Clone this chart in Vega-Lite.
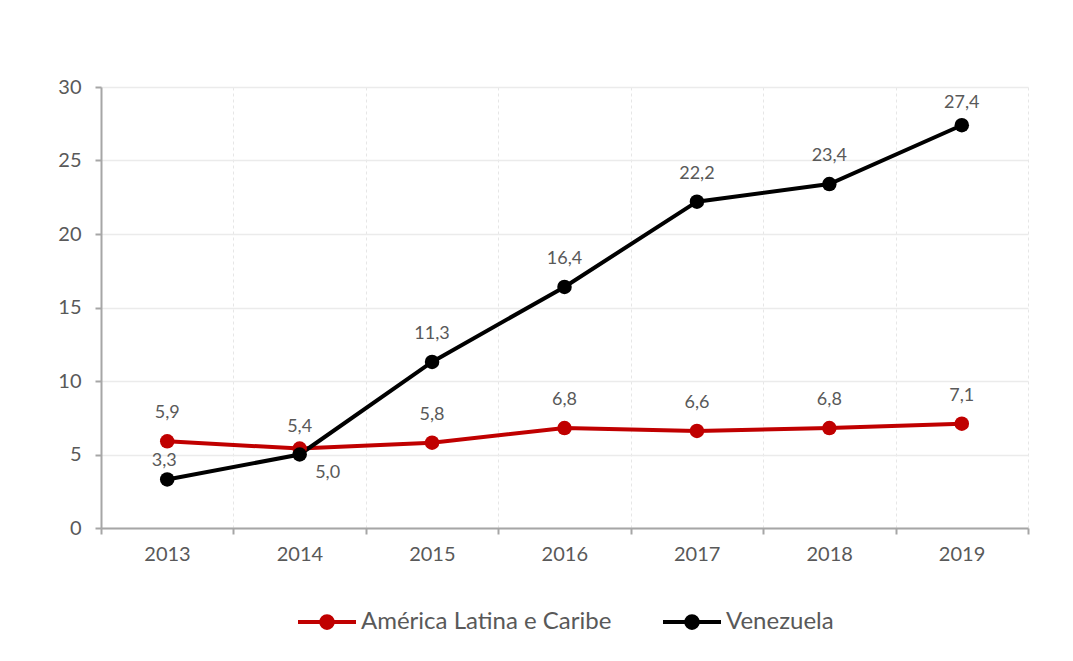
{
  "$schema": "https://vega.github.io/schema/vega-lite/v6.json",
  "width": 927,
  "height": 441,
  "autosize": {"type": "none"},
  "padding": {"left": 101, "top": 87, "right": 45, "bottom": 133},
  "background": "#ffffff",
  "data": {
    "values": [
      {"ano": 2013, "serie": "América Latina e Caribe", "valor": 5.9},
      {"ano": 2014, "serie": "América Latina e Caribe", "valor": 5.4},
      {"ano": 2015, "serie": "América Latina e Caribe", "valor": 5.8},
      {"ano": 2016, "serie": "América Latina e Caribe", "valor": 6.8},
      {"ano": 2017, "serie": "América Latina e Caribe", "valor": 6.6},
      {"ano": 2018, "serie": "América Latina e Caribe", "valor": 6.8},
      {"ano": 2019, "serie": "América Latina e Caribe", "valor": 7.1},
      {"ano": 2013, "serie": "Venezuela", "valor": 3.3},
      {"ano": 2014, "serie": "Venezuela", "valor": 5.0},
      {"ano": 2015, "serie": "Venezuela", "valor": 11.3},
      {"ano": 2016, "serie": "Venezuela", "valor": 16.4},
      {"ano": 2017, "serie": "Venezuela", "valor": 22.2},
      {"ano": 2018, "serie": "Venezuela", "valor": 23.4},
      {"ano": 2019, "serie": "Venezuela", "valor": 27.4}
    ]
  },
  "encoding": {
    "x": {
      "field": "ano",
      "type": "quantitative",
      "scale": {"domain": [2012.5, 2019.5], "nice": false, "zero": false},
      "axis": {
        "title": null,
        "values": [2012.5, 2013.5, 2014.5, 2015.5, 2016.5, 2017.5, 2018.5, 2019.5],
        "labelExpr": "datum.value < 2019 ? format(datum.value + 0.5, 'd') : ''",
        "labelOffset": 66,
        "labelPadding": 10,
        "labelFlush": false,
        "labelOverlap": false,
        "grid": true,
        "gridColor": "#E6E6E6",
        "gridDash": [3, 3],
        "gridWidth": 1,
        "domainColor": "#A6A6A6",
        "domainWidth": 2,
        "tickColor": "#A6A6A6",
        "tickWidth": 2,
        "tickSize": 6
      }
    },
    "y": {
      "field": "valor",
      "type": "quantitative",
      "scale": {"domain": [0, 30], "nice": false},
      "axis": {
        "title": null,
        "values": [0, 5, 10, 15, 20, 25, 30],
        "grid": true,
        "gridColor": "#EBEBEB",
        "gridWidth": 1.5,
        "domainColor": "#A6A6A6",
        "domainWidth": 2,
        "tickColor": "#A6A6A6",
        "tickWidth": 2,
        "tickSize": 6,
        "labelPadding": 14,
        "format": "d"
      }
    },
    "color": {
      "field": "serie",
      "type": "nominal",
      "scale": {"domain": ["América Latina e Caribe", "Venezuela"], "range": ["#C00000", "#000000"]},
      "legend": {
        "title": null,
        "orient": "none",
        "direction": "horizontal",
        "legendX": 195,
        "legendY": 504,
        "symbolType": "M-1,0L1,0M0.2,0A0.2,0.2,0,1,1,-0.2,0A0.2,0.2,0,1,1,0.2,0Z",
        "symbolSize": 3364,
        "symbolStrokeWidth": 4,
        "symbolOpacity": 1,
        "labelFontSize": 24,
        "labelColor": "#595959",
        "labelFont": "Lato",
        "labelOffset": 3,
        "columnPadding": 43,
        "labelLimit": 400
      }
    }
  },
  "layer": [
    {"mark": {"type": "line", "strokeWidth": 4}},
    {"mark": {"type": "point", "filled": true, "size": 210, "opacity": 1}},
    {
      "transform": [{"filter": "!(datum.serie == 'Venezuela' && (datum.ano == 2014 || datum.ano == 2013 || datum.ano == 2019)) && !(datum.serie == 'América Latina e Caribe' && datum.ano == 2014)"}],
      "mark": {"type": "text", "dy": -28, "fontSize": 18, "font": "Lato", "color": "#595959"},
      "encoding": {
        "text": {"field": "valor", "type": "quantitative", "format": ".1f"},
        "color": {"value": "#595959"}
      }
    },
    {
      "transform": [{"filter": "(datum.serie == 'Venezuela' && datum.ano == 2019) || (datum.serie == 'América Latina e Caribe' && datum.ano == 2014)"}],
      "mark": {"type": "text", "dy": -22, "fontSize": 18, "font": "Lato", "color": "#595959"},
      "encoding": {
        "text": {"field": "valor", "type": "quantitative", "format": ".1f"},
        "color": {"value": "#595959"}
      }
    },
    {
      "transform": [{"filter": "datum.serie == 'Venezuela' && datum.ano == 2013"}],
      "mark": {"type": "text", "dx": -3, "dy": -18, "fontSize": 18, "font": "Lato", "color": "#595959"},
      "encoding": {
        "text": {"field": "valor", "type": "quantitative", "format": ".1f"},
        "color": {"value": "#595959"}
      }
    },
    {
      "transform": [{"filter": "datum.serie == 'Venezuela' && datum.ano == 2014"}],
      "mark": {"type": "text", "dx": 28, "dy": 18, "fontSize": 18, "font": "Lato", "color": "#595959"},
      "encoding": {
        "text": {"field": "valor", "type": "quantitative", "format": ".1f"},
        "color": {"value": "#595959"}
      }
    }
  ],
  "config": {
    "locale": {"number": {"decimal": ",", "thousands": ".", "grouping": [3], "currency": ["", " €"]}},
    "view": {"stroke": null},
    "axis": {"labelFont": "Lato", "labelFontSize": 20, "labelColor": "#595959"}
  }
}
